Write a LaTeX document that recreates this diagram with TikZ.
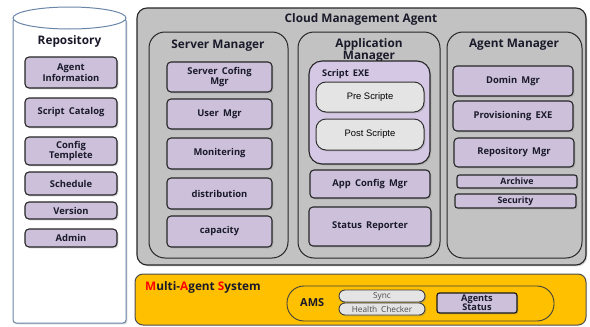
\documentclass[tikz,border=0pt]{standalone}
\usepackage{fontspec}
\setmainfont{Open Sans}
\newfontfamily\plainsans{Liberation Sans}
\usetikzlibrary{shadows}
\definecolor{lav}{HTML}{CCC0DA}
\definecolor{lavlight}{HTML}{D4C8E4}
\definecolor{cgray}{HTML}{C2C2C2}
\definecolor{pill}{HTML}{E4E4E4}
\definecolor{masorange}{HTML}{FFC000}
\definecolor{cylc}{HTML}{6A86A8}
\definecolor{ink}{HTML}{1A1A2A}
\newcommand\gap{\hspace{0.45em}}
\tikzset{
  softshadow/.style={drop shadow={shadow xshift=1.3pt, shadow yshift=-1.3pt, opacity=0.35}},
  itembox/.style={draw=black!85, line width=1.1pt, fill=lav, rounded corners=4pt,
    inner sep=0pt, align=center, text=ink, softshadow,
    font=\fontsize{9.4}{10.6}\selectfont\bfseries},
  thinbox/.style={itembox, font=\fontsize{8.8}{9}\selectfont\bfseries},
  scriptbox/.style={draw=black!80, line width=1pt, fill=pill, rounded corners=10pt,
    inner sep=0pt, softshadow, font=\plainsans\fontsize{9.4}{10}\selectfont},
  mgrbox/.style={draw=black!85, line width=1pt, fill=cgray, rounded corners=16pt, inner sep=0pt},
  mgrtitle/.style={inner sep=0pt, align=center, text=ink,
    font=\fontsize{11.8}{12}\selectfont\bfseries},
  pillbox/.style={draw=black!75, line width=0.9pt, fill=pill, rounded corners=6pt,
    inner sep=0pt, text=black!70, softshadow, font=\fontsize{8.3}{8.5}\selectfont},
}
\begin{document}
\begin{tikzpicture}[x=1pt,y=-1pt]
\useasboundingbox (0,0) rectangle (590,327);

% Repository cylinder
\path[draw=cylc, line width=1pt, fill=white, rounded corners=3pt, softshadow]
  (13,18) -- (13,323) -- (126,323) -- (126,18) -- cycle;
\draw[cylc, line width=1pt, fill=white] (69.5,18) ellipse [x radius=56.5, y radius=11];
\node[mgrtitle] (repT) at (69.5,41) {Repository};
\node[itembox, minimum width=92pt, minimum height=31pt] (agInfo) at (71,72.5) {Agent\\Information};
\node[itembox, minimum width=92pt, minimum height=29pt] (scrCat) at (71,112.5) {Script\gap Catalog};
\node[itembox, minimum width=92pt, minimum height=28pt] (cfgTpl) at (71,151) {Config\\Templete};
\node[itembox, minimum width=92pt, minimum height=23pt] (sched) at (71,183.5) {Schedule};
\node[itembox, minimum width=92pt, minimum height=17pt] (vers) at (71,210.5) {Version};
\node[itembox, minimum width=92pt, minimum height=18pt] (admin) at (71,238) {Admin};

% Cloud Management Agent
\node[draw=black!85, line width=1.1pt, fill=cgray, rounded corners=10pt, inner sep=0pt,
  softshadow, minimum width=449pt, minimum height=257pt] (cma) at (361.5,136.5) {};
\node[mgrtitle] (cmaT) at (361,19) {Cloud Management Agent};

% Server Manager
\node[mgrbox, minimum width=139pt, minimum height=226pt] (srv) at (218.5,145) {};
\node[mgrtitle] (srvT) at (218,45.5) {Server Manager};
\node[itembox, minimum width=105pt, minimum height=30pt] (srvCfg) at (219.5,77) {Server\gap Cofing\\Mgr};
\node[itembox, minimum width=105pt, minimum height=30pt] (usrMgr) at (219.5,114) {User\gap Mgr};
\node[itembox, minimum width=105pt, minimum height=31pt] (monit) at (219.5,153.5) {Monitering};
\node[itembox, minimum width=105pt, minimum height=31pt] (distr) at (219.5,193.5) {distribution};
\node[itembox, minimum width=105pt, minimum height=31pt] (capac) at (219.5,231.5) {capacity};

% Application Manager
\node[mgrbox, minimum width=142pt, minimum height=226pt] (app) at (369,145) {};
\node[mgrtitle] (appT) at (369,50.5) {Application\\Manager};
\node[draw=black!85, line width=1.1pt, fill=lavlight, rounded corners=13pt, inner sep=0pt,
  softshadow, minimum width=121pt, minimum height=103pt] (scrExe) at (369.5,112.5) {};
\node[anchor=west, inner sep=0pt, text=ink, font=\fontsize{9.2}{9.5}\selectfont\bfseries]
  (scrExeT) at (322,74) {Script\gap EXE};
\node[scriptbox, minimum width=108pt, minimum height=30pt] (preS) at (370,97) {Pre Scripte};
\node[scriptbox, minimum width=108pt, minimum height=31pt] (postS) at (370,134.5) {Post Scripte};
\node[itembox, minimum width=120pt, minimum height=28pt] (appCfg) at (370,184) {App\gap Config\gap Mgr};
\node[itembox, minimum width=122pt, minimum height=39pt] (statRep) at (370,226.5) {Status\gap Reporter};

% Agent Manager
\node[mgrbox, minimum width=135pt, minimum height=226pt] (agt) at (514.5,145) {};
\node[mgrtitle] (agtT) at (514,44.5) {Agent Manager};
\node[itembox, minimum width=120pt, minimum height=30pt] (domMgr) at (513,81) {Domin\gap Mgr};
\node[itembox, minimum width=120pt, minimum height=30pt] (provExe) at (513,116) {Provisioning\gap EXE};
\node[itembox, minimum width=120pt, minimum height=29pt] (repMgr) at (514,152.5) {Repository\gap Mgr};
\node[thinbox, minimum width=120pt, minimum height=13pt, rounded corners=2.5pt] (archive) at (517,181.5) {Archive};
\node[thinbox, minimum width=121pt, minimum height=14pt, rounded corners=2.5pt] (secur) at (515.5,201) {Security};

% Multi-Agent System
\node[draw=black!70, line width=1pt, fill=masorange, rounded corners=8pt, inner sep=0pt,
  minimum width=451pt, minimum height=51pt] (mas) at (360.5,299.5) {};
\node[anchor=west, inner sep=0pt, text=ink, font=\fontsize{11.8}{12}\selectfont\bfseries]
  (masT) at (145,287.5) {\textcolor{red}{M}ulti-\textcolor{red}{A}gent \textcolor{red}{S}ystem};
\node[draw=black!75, line width=0.9pt, rounded corners=17pt, inner sep=0pt,
  minimum width=267pt, minimum height=35pt] (ams) at (420.5,303.5) {};
\node[anchor=west, inner sep=0pt, text=ink, font=\fontsize{11}{12}\selectfont\bfseries]
  (amsT) at (300,303) {AMS};
\node[pillbox, minimum width=86pt, minimum height=12pt] (sync) at (382,296) {Sync};
\node[pillbox, minimum width=86pt, minimum height=12pt] (health) at (382,309) {Health\gap Checker};
\node[draw=black!90, line width=1.2pt, fill=lav, rounded corners=2.5pt, inner sep=0pt,
  align=center, text=ink, softshadow, font=\fontsize{9.2}{9}\selectfont\bfseries,
  minimum width=80pt, minimum height=20pt] (agStat) at (477,303) {Agents\\Status};
\end{tikzpicture}
\end{document}
